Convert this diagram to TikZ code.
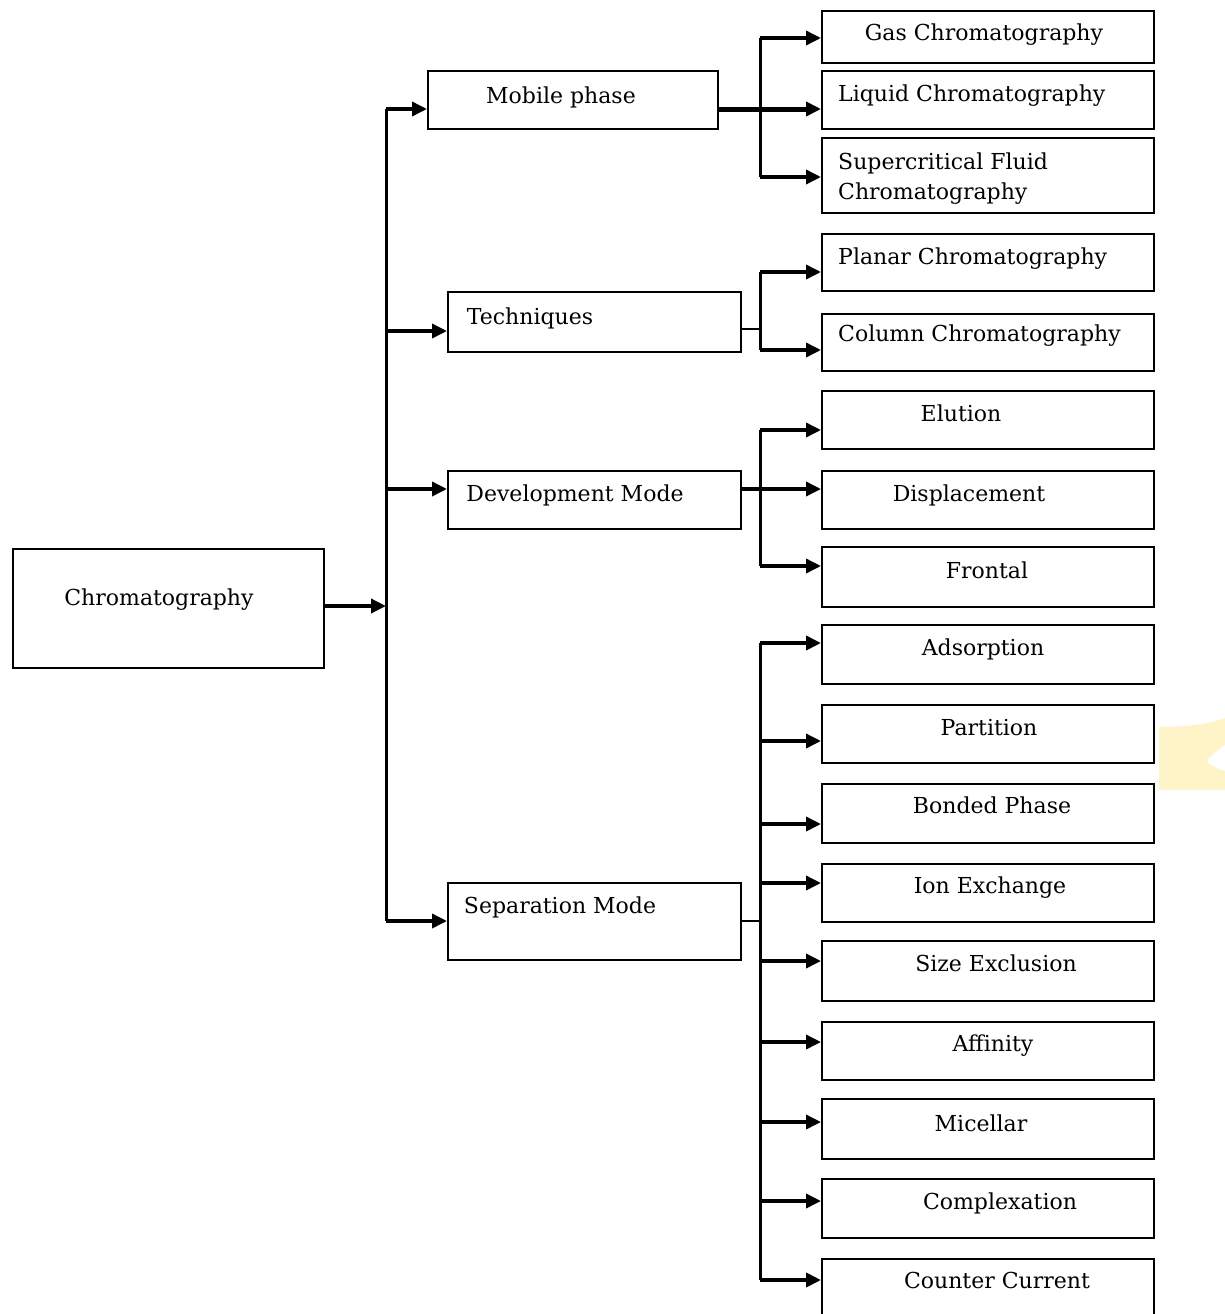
\documentclass[tikz,border=0pt]{standalone}
\usepackage{fontspec}
\setmainfont{DejaVu Serif}
\usetikzlibrary{arrows.meta}
\definecolor{wmyellow}{RGB}{255,243,200}
\tikzset{
  x=1pt, y=-1pt,
  box/.style={draw, line width=2pt, inner sep=0pt, anchor=north west},
  txt/.style={inner sep=0pt, font=\fontsize{22}{30}\selectfont},
  arr/.style={line width=3.5pt, -{Triangle[length=15pt,width=14pt]}},
  trunk/.style={line width=3pt},
  thin/.style={line width=1.5pt},
}
\newcommand{\mybox}[5]{\node[box, minimum width=#4-#2, minimum height=#5-#3] (#1) at (#2,#3) {};}
\begin{document}
\begin{tikzpicture}
\useasboundingbox (0,0) rectangle (1225,1314);
% watermark fragment
\fill[wmyellow] (1159,727) .. controls (1185,727) and (1210,724) .. (1225,718) -- (1225,745) .. controls (1215,752) and (1208,758) .. (1207,762) .. controls (1212,766) and (1220,770) .. (1225,771) -- (1225,790) -- (1159,790) -- cycle;
% boxes
\mybox{chrom}{12}{548}{323}{667}
\mybox{mobile}{427}{70}{717}{128}
\mybox{tech}{447}{291}{740}{351}
\mybox{dev}{447}{470}{740}{528}
\mybox{sep}{447}{882}{740}{959}
\mybox{gas}{821}{10}{1153}{62}
\mybox{liquid}{821}{70}{1153}{128}
\mybox{super}{821}{137}{1153}{212}
\mybox{planar}{821}{233}{1153}{290}
\mybox{column}{821}{313}{1153}{370}
\mybox{elution}{821}{390}{1153}{448}
\mybox{displ}{821}{470}{1153}{528}
\mybox{frontal}{821}{546}{1153}{606}
\mybox{adsorp}{821}{624}{1153}{683}
\mybox{partit}{821}{704}{1153}{762}
\mybox{bonded}{821}{783}{1153}{842}
\mybox{ion}{821}{863}{1153}{921}
\mybox{size}{821}{940}{1153}{1000}
\mybox{affin}{821}{1021}{1153}{1079}
\mybox{micel}{821}{1098}{1153}{1158}
\mybox{complex}{821}{1178}{1153}{1237}
\mybox{counter}{821}{1258}{1153}{1322}
% texts
\node[txt, anchor=base] (chrom-t) at (159,605) {Chromatography};
\node[txt, anchor=base] (mobile-t) at (561,103) {Mobile phase};
\node[txt, anchor=base] (tech-t) at (530,324) {Techniques};
\node[txt, anchor=base] (dev-t) at (575,501) {Development Mode};
\node[txt, anchor=base] (sep-t) at (560,913) {Separation Mode};
\node[txt, anchor=base] (gas-t) at (984,41) {Gas Chromatography};
\node[txt, anchor=base west] (liquid-t) at (838,101) {Liquid Chromatography};
\node[txt, anchor=base west] (super-t1) at (838,169) {Supercritical Fluid};
\node[txt, anchor=base west] (super-t2) at (838,199) {Chromatography};
\node[txt, anchor=base west] (planar-t) at (838,264) {Planar Chromatography};
\node[txt, anchor=base west] (column-t) at (838,341) {Column Chromatography};
\node[txt, anchor=base] (elution-t) at (961,421) {Elution};
\node[txt, anchor=base] (displ-t) at (969,501) {Displacement};
\node[txt, anchor=base] (frontal-t) at (987,578) {Frontal};
\node[txt, anchor=base] (adsorp-t) at (983,655) {Adsorption};
\node[txt, anchor=base] (partit-t) at (989,735) {Partition};
\node[txt, anchor=base] (bonded-t) at (992,813) {Bonded Phase};
\node[txt, anchor=base] (ion-t) at (990,893) {Ion Exchange};
\node[txt, anchor=base] (size-t) at (996,971) {Size Exclusion};
\node[txt, anchor=base] (affin-t) at (993,1051) {Affinity};
\node[txt, anchor=base] (micel-t) at (981,1131) {Micellar};
\node[txt, anchor=base] (complex-t) at (1000,1209) {Complexation};
\node[txt, anchor=base] (counter-t) at (997,1288) {Counter Current};
% trunk coordinates
\coordinate (tr0) at (386,606);
\coordinate (tr1) at (386,109);
\coordinate (tr2) at (386,331);
\coordinate (tr3) at (386,489);
\coordinate (tr4) at (386,921);
\draw[trunk] (tr1) -- (tr4);
\draw[arr] (chrom.east |- tr0) -- (tr0);
\draw[arr] (tr1) -- (mobile.west |- tr1);
\draw[arr] (tr2) -- (tech.west |- tr2);
\draw[arr] (tr3) -- (dev.west |- tr3);
\draw[arr] (tr4) -- (sep.west |- tr4);
% mobile phase group
\coordinate (m1) at (760,38);
\coordinate (m2) at (760,109);
\coordinate (m3) at (760,177);
\draw[trunk] (m1) -- (m3);
\draw[arr, line width=5pt] (mobile.east |- m2) -- (liquid.west |- m2);
\draw[arr] (m1) -- (gas.west |- m1);
\draw[arr] (m3) -- (super.west |- m3);
% techniques group
\coordinate (t1) at (760,272);
\coordinate (t2) at (760,329);
\coordinate (t3) at (760,350);
\draw[trunk] (t1) -- (t3);
\draw[thin] (tech.east |- t2) -- (t2);
\draw[arr] (t1) -- (planar.west |- t1);
\draw[arr] (t3) -- (column.west |- t3);
% development group
\coordinate (d1) at (760,430);
\coordinate (d2) at (760,489);
\coordinate (d3) at (760,566);
\draw[trunk] (d1) -- (d3);
\draw[arr] (dev.east |- d2) -- (displ.west |- d2);
\draw[arr] (d1) -- (elution.west |- d1);
\draw[arr] (d3) -- (frontal.west |- d3);
% separation group
\coordinate (s0) at (760,921);
\coordinate (s1) at (760,643);
\coordinate (s2) at (760,741);
\coordinate (s3) at (760,824);
\coordinate (s4) at (760,883);
\coordinate (s5) at (760,961);
\coordinate (s6) at (760,1042);
\coordinate (s7) at (760,1122);
\coordinate (s8) at (760,1201);
\coordinate (s9) at (760,1280);
\draw[trunk] (s1) -- (s9);
\draw[thin] (sep.east |- s0) -- (s0);
\draw[arr, line width=4.5pt] (s1) -- (adsorp.west |- s1);
\draw[arr] (s2) -- (partit.west |- s2);
\draw[arr] (s3) -- (bonded.west |- s3);
\draw[arr] (s4) -- (ion.west |- s4);
\draw[arr] (s5) -- (size.west |- s5);
\draw[arr] (s6) -- (affin.west |- s6);
\draw[arr] (s7) -- (micel.west |- s7);
\draw[arr] (s8) -- (complex.west |- s8);
\draw[arr, line width=4.5pt] (s9) -- (counter.west |- s9);
\end{tikzpicture}
\end{document}
